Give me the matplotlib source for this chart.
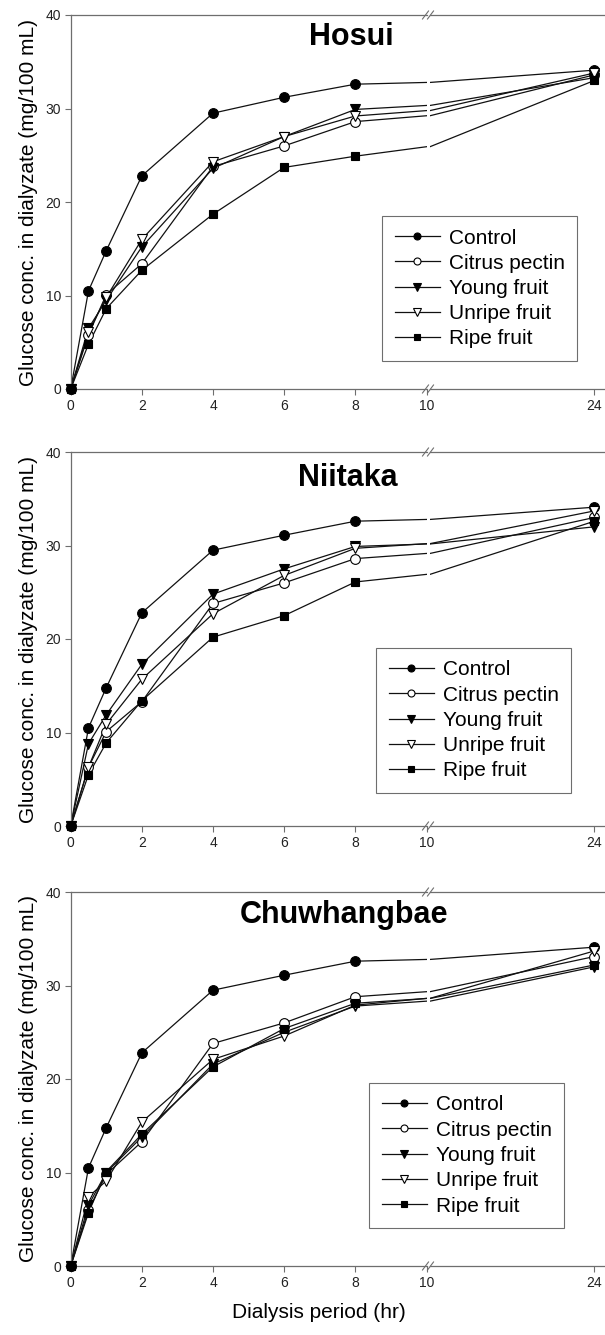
import numpy as np
import matplotlib.pyplot as plt
from matplotlib.lines import Line2D

plt.rcParams['font.family'] = ['Liberation Sans', 'DejaVu Sans']

# dialysis time points (hr)
hours = np.array([0, 0.5, 1, 2, 4, 6, 8, 24])

series_names = ["Control", "Citrus pectin", "Young fruit", "Unripe fruit", "Ripe fruit"]

# Hosui
hosui_control = [0, 10.5, 14.8, 22.8, 29.5, 31.2, 32.6, 34.1]
hosui_citrus = [0, 5.8, 10.1, 13.4, 23.8, 26.0, 28.6, 33.6]
hosui_young = [0, 6.5, 9.5, 15.2, 23.6, 27.0, 29.9, 33.3]
hosui_unripe = [0, 6.1, 9.8, 16.0, 24.3, 27.0, 29.2, 33.8]
hosui_ripe = [0, 4.8, 8.6, 12.7, 18.7, 23.7, 24.9, 33.0]

# Niitaka
niitaka_control = [0, 10.5, 14.8, 22.8, 29.5, 31.1, 32.6, 34.1]
niitaka_citrus = [0, 6.3, 10.1, 13.3, 23.8, 26.0, 28.6, 33.0]
niitaka_young = [0, 8.8, 11.9, 17.3, 24.8, 27.5, 29.9, 32.0]
niitaka_unripe = [0, 6.3, 10.9, 15.7, 22.7, 26.8, 29.7, 33.7]
niitaka_ripe = [0, 5.5, 8.9, 13.4, 20.2, 22.5, 26.1, 32.6]

# Chuwhangbae
chuw_control = [0, 10.5, 14.8, 22.8, 29.5, 31.1, 32.6, 34.1]
chuw_citrus = [0, 6.0, 9.8, 13.3, 23.8, 26.0, 28.8, 33.1]
chuw_young = [0, 6.5, 10.0, 13.8, 21.6, 25.0, 27.8, 32.0]
chuw_unripe = [0, 7.4, 9.1, 15.4, 22.1, 24.6, 27.9, 33.7]
chuw_ripe = [0, 5.7, 10.1, 14.1, 21.3, 25.4, 28.1, 32.2]

panels = [
    ("Hosui", [hosui_control, hosui_citrus, hosui_young, hosui_unripe, hosui_ripe]),
    ("Niitaka", [niitaka_control, niitaka_citrus, niitaka_young, niitaka_unripe, niitaka_ripe]),
    ("Chuwhangbae", [chuw_control, chuw_citrus, chuw_young, chuw_unripe, chuw_ripe]),
]

# marker, face colour, size
styles = [("o", "black", 7.0), ("o", "white", 7.0), ("v", "black", 7.2),
          ("v", "white", 7.2), ("s", "black", 6.0)]

W, H = 605, 1335
fig = plt.figure(figsize=(W / 100, H / 100), dpi=100)

# pixel layout: (top, bottom) of each panel, title centre, legend top-left
panel_box = [(15, 389), (452, 826), (892, 1266)]
title_pos = [(351, 37), (348, 478), (344, 915)]
legend_pos = [(382, 216), (376, 648), (369, 1083)]

x_left, x_break, x_right0, x_end = 70.7, 426.5, 430.0, 605.0
spine_col = "#6e6e6e"
line_col = "#111111"


def add_break(px, py):
    # little "//" mark across a spine
    for dx in (-2.5, 2.5):
        xs = [(px + dx - 3) / W, (px + dx + 3) / W]
        ys = [1 - (py + 4) / H, 1 - (py - 4) / H]
        fig.add_artist(Line2D(xs, ys, color=spine_col, lw=0.8))


for i, (name, data) in enumerate(panels):
    top, bot = panel_box[i]
    b = 1 - bot / H
    h = (bot - top) / H
    axL = fig.add_axes([x_left / W, b, (x_break - x_left) / W, h])
    axR = fig.add_axes([x_right0 / W, b, (x_end - x_right0) / W, h])

    for ax in (axL, axR):
        ax.set_ylim(0, 40)
        for s in ax.spines.values():
            s.set_color(spine_col)
            s.set_linewidth(0.9)
        ax.spines["right"].set_visible(False)
        ax.tick_params(direction="out", length=4, width=0.8, color=spine_col,
                       labelsize=10, labelcolor="#222222", pad=3)
    axR.spines["left"].set_visible(False)

    axL.set_xlim(0, 10)
    axL.set_xticks([0, 2, 4, 6, 8, 10])
    axL.set_yticks([0, 10, 20, 30, 40])
    axR.set_xlim(10, 24.9)
    axR.set_xticks([24])
    axR.set_yticks([])

    for vals, (mk, fc, ms) in zip(data, styles):
        vals = np.array(vals)
        left = hours <= 10
        for ax, m in ((axL, left), (axR, ~left)):
            ax.plot(hours, vals, color=line_col, lw=0.9, zorder=2)
            ax.plot(hours[m], vals[m], linestyle="none", marker=mk, ms=ms,
                    mfc=fc, mec="black", mew=0.8, clip_on=False, zorder=3)

    axL.set_ylabel("Glucose conc. in dialyzate (mg/100 mL)", fontsize=15, labelpad=5)

    tx, ty = title_pos[i]
    fig.text(tx / W, 1 - ty / H, name, fontsize=22, fontweight="bold",
             ha="center", va="center")

    add_break(x_break + 1.5, top)
    add_break(x_break + 1.5, bot)

    handles = [Line2D([], [], color=line_col, lw=0.9, marker=mk, ms=ms * 0.72,
                      mfc=fc, mec="black", mew=0.8) for mk, fc, ms in styles]
    lx, ly = legend_pos[i]
    leg = axR.legend(handles, series_names, loc="upper left",
                     bbox_to_anchor=(lx / W, 1 - ly / H),
                     bbox_transform=fig.transFigure, fontsize=15,
                     fancybox=False, framealpha=1, edgecolor=spine_col,
                     handlelength=2.2, handletextpad=0.4, labelspacing=0.3,
                     borderpad=0.6, borderaxespad=0)
    leg.get_frame().set_linewidth(0.8)
    leg.set_zorder(10)

fig.text(319 / W, 1 - 1313 / H, "Dialysis period (hr)", fontsize=15,
         ha="center", va="center")

fig.savefig("out.png", dpi=100)
